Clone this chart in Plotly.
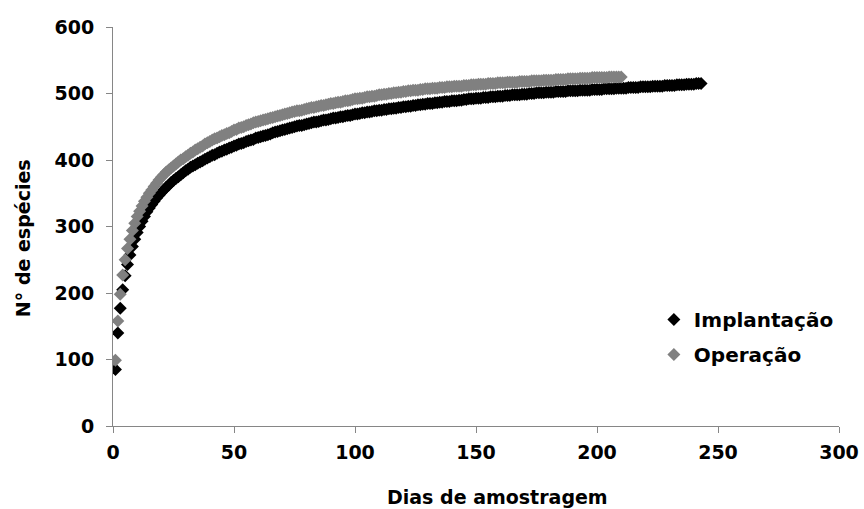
import plotly.graph_objects as go

implantacao = [
    85, 140, 177, 205, 226, 243, 257, 270, 281, 291,
    300, 308, 315, 322, 328, 333, 338, 343, 347, 351,
    355, 359, 362, 366, 369, 372, 375, 378, 381, 384,
    386, 389, 391, 393, 395, 397, 399, 401, 403, 405,
    407, 408, 410, 412, 413, 415, 416, 418, 419, 421,
    422, 424, 425, 426, 428, 429, 430, 431, 433, 434,
    435, 436, 437, 438, 439, 441, 442, 443, 444, 445,
    446, 447, 448, 449, 450, 451, 452, 452, 453, 454,
    455, 456, 457, 457, 458, 459, 460, 460, 461, 462,
    463, 463, 464, 465, 465, 466, 467, 467, 468, 469,
    469, 470, 471, 471, 472, 472, 473, 474, 474, 475,
    475, 476, 476, 477, 477, 478, 478, 479, 479, 480,
    480, 481, 481, 482, 482, 483, 483, 484, 484, 485,
    485, 485, 486, 486, 487, 487, 488, 488, 488, 489,
    489, 489, 490, 490, 491, 491, 492, 492, 492, 493,
    493, 493, 494, 494, 494, 495, 495, 495, 496, 496,
    496, 497, 497, 497, 498, 498, 498, 498, 499, 499,
    499, 500, 500, 500, 501, 501, 501, 501, 502, 502,
    502, 502, 503, 503, 503, 503, 503, 504, 504, 504,
    504, 504, 505, 505, 505, 505, 505, 506, 506, 506,
    506, 506, 507, 507, 507, 507, 507, 508, 508, 508,
    508, 508, 509, 509, 509, 509, 509, 510, 510, 510,
    510, 510, 511, 511, 511, 511, 511, 512, 512, 512,
    512, 512, 513, 513, 513, 513, 514, 514, 514, 514, 515, 515, 515,
]

operacao = [
    99, 158, 198, 227, 250, 267, 281, 294, 305, 315,
    323, 331, 338, 344, 350, 355, 360, 365, 370, 374,
    378, 382, 385, 388, 391, 394, 397, 400, 402, 405,
    407, 410, 412, 415, 417, 419, 421, 424, 426, 428,
    430, 432, 433, 435, 437, 438, 440, 441, 443, 445,
    446, 448, 449, 450, 452, 453, 454, 456, 457, 458,
    459, 460, 461, 462, 463, 464, 465, 466, 467, 468,
    469, 470, 471, 472, 473, 474, 474, 475, 476, 477,
    478, 479, 479, 480, 481, 482, 482, 483, 484, 485,
    485, 486, 487, 487, 488, 489, 489, 490, 491, 492,
    492, 493, 493, 494, 495, 495, 496, 496, 497, 498,
    498, 499, 499, 500, 500, 501, 501, 502, 502, 503,
    503, 504, 504, 505, 505, 505, 506, 506, 507, 507,
    507, 508, 508, 508, 509, 509, 509, 510, 510, 510,
    511, 511, 511, 511, 512, 512, 512, 513, 513, 513,
    514, 514, 514, 514, 515, 515, 515, 515, 516, 516,
    516, 516, 517, 517, 517, 517, 517, 518, 518, 518,
    518, 518, 519, 519, 519, 519, 519, 520, 520, 520,
    520, 520, 521, 521, 521, 521, 521, 522, 522, 522,
    522, 522, 523, 523, 523, 523, 523, 524, 524, 524,
    524, 524, 524, 524, 525, 525, 525, 525, 525, 525,
]

dias_implantacao = list(range(1, len(implantacao) + 1))
dias_operacao = list(range(1, len(operacao) + 1))

series_names = ["Implantação", "Operação"]
x_title = "Dias de amostragem"
y_title = "N° de espécies"

FONT = "DejaVu Sans"

fig = go.Figure()
fig.add_trace(go.Scatter(
    x=dias_implantacao, y=implantacao, mode="markers", name=series_names[0],
    legendgroup="a",
    marker=dict(symbol="diamond", size=10, color="#000000", line=dict(width=0)),
))
fig.add_trace(go.Scatter(
    x=dias_operacao, y=operacao, mode="markers", name=series_names[1],
    legendgroup="b",
    marker=dict(symbol="diamond", size=10, color="#808080", line=dict(width=0)),
))

axis_common = dict(
    showgrid=False, zeroline=False, showline=True, linecolor="#868686", linewidth=1,
    ticks="outside", ticklen=6, tickcolor="#868686", automargin=False,
    tickfont=dict(family=FONT, size=19, color="#000000", weight="bold"),
)

fig.update_layout(
    width=864, height=509,
    margin=dict(l=113, r=25, t=27, b=83, autoexpand=False),
    paper_bgcolor="white", plot_bgcolor="white",
    font=dict(family=FONT, color="#000000"),
    xaxis=dict(range=[0, 300], dtick=50, ticklabelstandoff=3, **axis_common),
    yaxis=dict(range=[0, 600], dtick=100, ticklabelstandoff=8, **axis_common),
    legend=dict(
        x=0.745, y=0.316, xanchor="left", yanchor="top",
        font=dict(family=FONT, size=20, color="#000000", weight="bold"),
        bgcolor="rgba(0,0,0,0)", tracegroupgap=6, itemwidth=30,
    ),
    showlegend=True,
    annotations=[
        dict(text=x_title, xref="paper", yref="paper", x=0.529, y=-0.178,
             xanchor="center", yanchor="middle", showarrow=False,
             font=dict(family=FONT, size=19, color="#000000", weight="bold")),
        dict(text=y_title, xref="paper", yref="paper", x=-0.1247, y=0.472,
             xanchor="center", yanchor="middle", showarrow=False, textangle=-90,
             font=dict(family=FONT, size=19, color="#000000", weight="bold")),
    ],
)

fig.write_html(
    "out.html",
    config={"displayModeBar": False},
    post_script="document.body.style.margin='0';document.body.style.overflow='hidden';",
)
